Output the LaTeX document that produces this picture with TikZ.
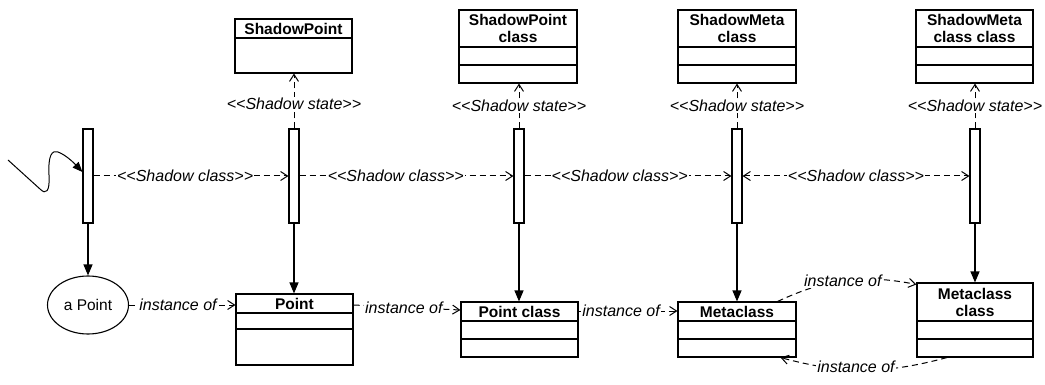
\documentclass[tikz,border=0pt]{standalone}
\usepackage{fontspec}
\setmainfont{Liberation Sans}
\usetikzlibrary{arrows.meta,shapes.geometric}
\begin{document}
\begin{tikzpicture}[x=1pt,y=-1pt,
  every node/.style={font=\fontsize{15.5}{17}\selectfont},
  lw/.style={line width=1.1pt},
  bar/.style={draw,line width=1.1pt,fill=white,minimum width=10pt,minimum height=94pt,inner sep=0pt},
  boxframe/.style={draw,line width=1.1pt,inner sep=0pt},
  hdr/.style={font=\fontsize{15.5}{17}\selectfont\bfseries,align=center,inner sep=0pt},
  lbl/.style={font=\fontsize{16}{17}\selectfont\itshape,fill=white,inner sep=1pt},
  dasharr/.style={line width=1pt,dash pattern=on 6pt off 4pt,-{Straight Barb[length=7pt,width=9pt]}},
  dasharr2/.style={line width=1pt,dash pattern=on 6pt off 4pt,{Straight Barb[length=7pt,width=9pt]}-{Straight Barb[length=7pt,width=9pt]}},
  solidarr/.style={line width=1.1pt,-{Triangle[length=11pt,width=9pt]}},
]
\useasboundingbox (0,0) rectangle (1045,385);

% top boxes
\node[boxframe,minimum width=117pt,minimum height=54pt] (sp) at (293.5,46) {};
\draw[lw] (sp.west |- 0,38) -- (sp.east |- 0,38);
\node[hdr] (sptxt) at (293.5,28.5) {ShadowPoint};

\node[boxframe,minimum width=118pt,minimum height=73pt] (spc) at (518,46.5) {};
\draw[lw] (spc.west |- 0,47) -- (spc.east |- 0,47);
\draw[lw] (spc.west |- 0,65) -- (spc.east |- 0,65);
\node[hdr] (spctxt) at (518,28.5) {ShadowPoint\\class};

\node[boxframe,minimum width=118pt,minimum height=73pt] (smc) at (737,46.5) {};
\draw[lw] (smc.west |- 0,47) -- (smc.east |- 0,47);
\draw[lw] (smc.west |- 0,65) -- (smc.east |- 0,65);
\node[hdr] (smctxt) at (737,28.5) {ShadowMeta\\class};

\node[boxframe,minimum width=117pt,minimum height=73pt] (smcc) at (974.5,46.5) {};
\draw[lw] (smcc.west |- 0,47) -- (smcc.east |- 0,47);
\draw[lw] (smcc.west |- 0,65) -- (smcc.east |- 0,65);
\node[hdr] (smcctxt) at (974.5,28.5) {ShadowMeta\\class class};

% bottom boxes
\node[draw,ellipse,line width=1.1pt,minimum width=81pt,minimum height=58pt,inner sep=0pt] (ap) at (88,305) {a Point};

\node[boxframe,minimum width=117pt,minimum height=71pt] (pt) at (294.5,329.5) {};
\draw[lw] (pt.west |- 0,313) -- (pt.east |- 0,313);
\draw[lw] (pt.west |- 0,329) -- (pt.east |- 0,329);
\node[hdr] (pttxt) at (294.5,303.5) {Point};

\node[boxframe,minimum width=117pt,minimum height=55pt] (ptc) at (519.5,329.5) {};
\draw[lw] (ptc.west |- 0,321) -- (ptc.east |- 0,321);
\draw[lw] (ptc.west |- 0,339) -- (ptc.east |- 0,339);
\node[hdr] (ptctxt) at (519.5,311.5) {Point class};

\node[boxframe,minimum width=118pt,minimum height=55pt] (mc) at (737,329.5) {};
\draw[lw] (mc.west |- 0,321) -- (mc.east |- 0,321);
\draw[lw] (mc.west |- 0,339) -- (mc.east |- 0,339);
\node[hdr] (mctxt) at (737,311.5) {Metaclass};

\node[boxframe,minimum width=116pt,minimum height=74pt] (mcc) at (975,320) {};
\draw[lw] (mcc.west |- 0,321) -- (mcc.east |- 0,321);
\draw[lw] (mcc.west |- 0,339) -- (mcc.east |- 0,339);
\node[hdr] (mcctxt) at (975,302) {Metaclass\\class};

% activation bars
\node[bar] (b1) at (88,176) {};
\node[bar] (b2) at (294,176) {};
\node[bar] (b3) at (519,176) {};
\node[bar] (b4) at (737,176) {};
\node[bar] (b5) at (975,176) {};

% down arrows
\draw[solidarr] (b1.south) -- (ap.north);
\draw[solidarr] (b2.south) -- (b2.south |- pt.north);
\draw[solidarr] (b3.south) -- (b3.south |- ptc.north);
\draw[solidarr] (b4.south) -- (mc.north);
\draw[solidarr] (b5.south) -- (mcc.north);

% shadow state
\draw[dasharr] (b2.north) -- node[lbl,pos=0.45]{<\kern0pt<Shadow state>\kern0pt>} (b2.north |- sp.south);
\draw[dasharr] (b3.north) -- node[lbl,pos=0.5]{<\kern0pt<Shadow state>\kern0pt>} (b3.north |- spc.south);
\draw[dasharr] (b4.north) -- node[lbl,pos=0.5]{<\kern0pt<Shadow state>\kern0pt>} (smc.south);
\draw[dasharr] (b5.north) -- node[lbl,pos=0.5]{<\kern0pt<Shadow state>\kern0pt>} (b5.north |- smcc.south);

% shadow class
\draw[dasharr] (b1.east) -- node[lbl,pos=0.47]{<\kern0pt<Shadow class>\kern0pt>} (b2.west);
\draw[dasharr] (b2.east) -- node[lbl,pos=0.45]{<\kern0pt<Shadow class>\kern0pt>} (b3.west);
\draw[dasharr] (b3.east) -- node[lbl,pos=0.46]{<\kern0pt<Shadow class>\kern0pt>} (b4.west);
\draw[dasharr2] (b4.east) -- node[lbl,pos=0.5]{<\kern0pt<Shadow class>\kern0pt>} (b5.west);

% instance of
\draw[dasharr] (ap.east) -- node[lbl,pos=0.46]{instance of} (pt.west |- ap.east);
\draw[dasharr] (pt.east |- 0,305) -- node[lbl,pos=0.47]{instance of} (ptc.west |- 0,310);
\draw[dasharr] (ptc.east |- 0,311) -- node[lbl,pos=0.43]{instance of} (mc.west |- 0,311);
\draw[dasharr] ([xshift=-19pt]mc.north east) to[bend left=18] node[lbl,pos=0.48]{instance of} ([yshift=-2pt]mcc.north west);
\draw[dasharr] ([xshift=-28pt]mcc.south) to[bend left=15] node[lbl,pos=0.55,yshift=3pt]{instance of} ([xshift=-16pt]mc.south east);

% incoming squiggle
\coordinate (sq0) at (8,160);
\draw[line width=1pt,-{Triangle[length=10pt,width=8pt]}] (sq0) -- (40,189) .. controls (46,195) and (50,192) .. (49,175) .. controls (48,155) and (52,150) .. (58,152) .. controls (66,155) and (74,163) .. ([yshift=4pt]b1.west);
\end{tikzpicture}
\end{document}
